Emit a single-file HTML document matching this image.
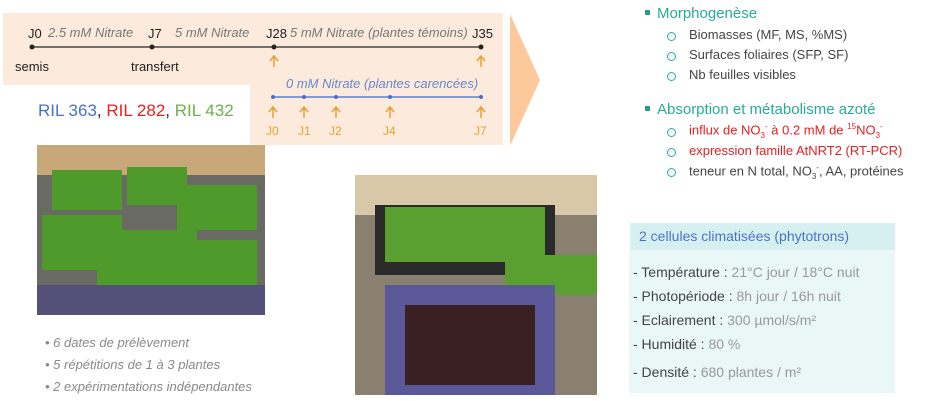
<!DOCTYPE html>
<html><head><meta charset="utf-8"><style>
body{margin:0;width:944px;height:401px;background:#fff;position:relative;overflow:hidden;font-family:"Liberation Sans",sans-serif}
.a{position:absolute;white-space:nowrap}
.it{font-style:italic;color:#777}
.sub{font-size:13px;color:#444}
.circ{position:absolute;width:7px;height:7px;border:1.5px solid #2aa;border-radius:50%}
</style></head><body>
<div class="a" style="left:3px;top:13px;width:500px;height:72px;background:#fcebdc"></div>
<div class="a" style="left:250px;top:85px;width:253px;height:60px;background:#fcebdc"></div>
<svg class="a" style="left:510px;top:14px" width="30" height="132"><polygon points="0,0 30,66 0,132" fill="#fbc99a"/></svg>
<svg class="a" style="left:0;top:0" width="510" height="150" font-family="Liberation Sans">
<line x1="32" y1="47" x2="481" y2="47" stroke="#444" stroke-width="1.5"/>
<g fill="#222"><circle cx="32" cy="47" r="2.5"/><circle cx="152" cy="47" r="2.5"/><circle cx="274" cy="47" r="2.5"/><circle cx="481" cy="47" r="2.5"/></g>
<g font-size="13" fill="#222"><text x="28" y="38">J0</text><text x="148" y="38">J7</text><text x="266" y="38">J28</text><text x="472" y="38">J35</text>
<text x="15" y="71">semis</text><text x="131" y="71">transfert</text></g>
<g font-size="13" fill="#777" font-style="italic"><text x="48" y="37">2.5 mM Nitrate</text><text x="175" y="37">5 mM Nitrate</text><text x="290" y="37">5 mM Nitrate (plantes témoins)</text>
<text x="286" y="88" fill="#6a88c8">0 mM Nitrate (plantes carencées)</text></g>
<line x1="273" y1="97" x2="481" y2="97" stroke="#5b7fd0" stroke-width="1.5"/>
<g fill="#4a6fc8"><circle cx="273" cy="97" r="2"/><circle cx="304" cy="97" r="2"/><circle cx="336" cy="97" r="2"/><circle cx="390" cy="97" r="2"/><circle cx="481" cy="97" r="2"/></g>
<g stroke="#e8a030" stroke-width="1.5" fill="none">
<path d="M274 67V57M270 61L274 56L278 61M481 67V57M477 61L481 56L485 61"/>
<path d="M273 118V108M269 112L273 107L277 112M304 118V108M300 112L304 107L308 112M336 118V108M332 112L336 107L340 112M390 118V108M386 112L390 107L394 112M481 118V108M477 112L481 107L485 112"/></g>
<g font-size="12" fill="#e8a030"><text x="266" y="135">J0</text><text x="298" y="135">J1</text><text x="329" y="135">J2</text><text x="383" y="135">J4</text><text x="474" y="135">J7</text></g>
</svg>
<div class="a" style="left:38px;top:101px;font-size:17px;color:#222"><span style="color:#4a72c4">RIL 363</span>, <span style="color:#e62020">RIL 282</span>, <span style="color:#6ab04c">RIL 432</span></div>
<svg class="a" style="left:37px;top:145px" width="228" height="170"><rect width="228" height="170" fill="#6a6a64"/><rect y="0" width="228" height="30" fill="#c8a878"/>
<g fill="#4e9a2a"><rect x="15" y="25" width="70" height="40"/><rect x="90" y="22" width="60" height="38"/><rect x="140" y="40" width="80" height="45"/><rect x="5" y="70" width="80" height="55"/><rect x="60" y="85" width="100" height="60"/><rect x="150" y="95" width="70" height="50"/></g>
<rect y="140" width="228" height="30" fill="#55507a"/></svg>
<svg class="a" style="left:355px;top:175px" width="242" height="220"><rect width="242" height="220" fill="#8a8070"/><rect y="0" width="242" height="40" fill="#d8c8a8"/>
<rect x="20" y="30" width="180" height="70" fill="#2a2a2a"/><rect x="30" y="32" width="160" height="55" fill="#5aa030"/><rect x="150" y="80" width="92" height="40" fill="#5aa030"/>
<rect x="30" y="110" width="170" height="110" fill="#5a5898"/><rect x="50" y="130" width="130" height="80" fill="#3a2020"/></svg>
<div class="a it" style="left:45px;top:332px;font-size:13px;line-height:22px;color:#888">• 6 dates de prélèvement<br>• 5 répétitions de 1 à 3 plantes<br>• 2 expérimentations indépendantes</div>
<div class="a" style="left:645px;top:10px;width:5px;height:5px;background:#2a9a8a"></div>
<div class="a" style="left:657px;top:5px;font-size:15px;color:#2aaa9a">Morphogenèse</div>
<div class="circ" style="left:667px;top:32px"></div><div class="a sub" style="left:689px;top:27px">Biomasses (MF, MS, %MS)</div>
<div class="circ" style="left:667px;top:52px"></div><div class="a sub" style="left:689px;top:47px">Surfaces foliaires (SFP, SF)</div>
<div class="circ" style="left:667px;top:72px"></div><div class="a sub" style="left:689px;top:67px">Nb feuilles visibles</div>
<div class="a" style="left:645px;top:106px;width:5px;height:5px;background:#2a9a8a"></div>
<div class="a" style="left:657px;top:101px;font-size:15px;color:#2aaa9a">Absorption et métabolisme azoté</div>
<div class="circ" style="left:667px;top:128px"></div><div class="a sub" style="left:689px;top:122px;color:#e62020">influx de NO<sub style="font-size:8px">3</sub><sup style="font-size:8px">-</sup> à 0.2 mM de <sup style="font-size:8px">15</sup>NO<sub style="font-size:8px">3</sub><sup style="font-size:8px">-</sup></div>
<div class="circ" style="left:667px;top:148px"></div><div class="a sub" style="left:689px;top:143px;color:#e62020">expression famille AtNRT2 (RT-PCR)</div>
<div class="circ" style="left:667px;top:168px"></div><div class="a sub" style="left:689px;top:163px">teneur en N total, NO<sub style="font-size:8px">3</sub><sup style="font-size:8px">-</sup>, AA, protéines</div>
<div class="a" style="left:629px;top:223px;width:266px;height:170px;background:#eaf7f7"></div>
<div class="a" style="left:631px;top:223px;width:264px;height:27px;background:#d6f0f2;font-size:14px;color:#4a72c4;line-height:27px;padding-left:8px;box-sizing:border-box">2 cellules climatisées (phytotrons)</div>
<div class="a" style="left:633px;top:260px;font-size:14px;color:#999;line-height:24px">
<div><b style="color:#444;font-weight:normal">- Température :</b> 21°C jour / 18°C nuit</div>
<div><b style="color:#444;font-weight:normal">- Photopériode :</b> 8h jour / 16h nuit</div>
<div><b style="color:#444;font-weight:normal">- Eclairement :</b> 300 µmol/s/m²</div>
<div><b style="color:#444;font-weight:normal">- Humidité :</b> 80 %</div>
<div style="margin-top:4px"><b style="color:#444;font-weight:normal">- Densité :</b> 680 plantes / m²</div>
</div>
</body></html>
